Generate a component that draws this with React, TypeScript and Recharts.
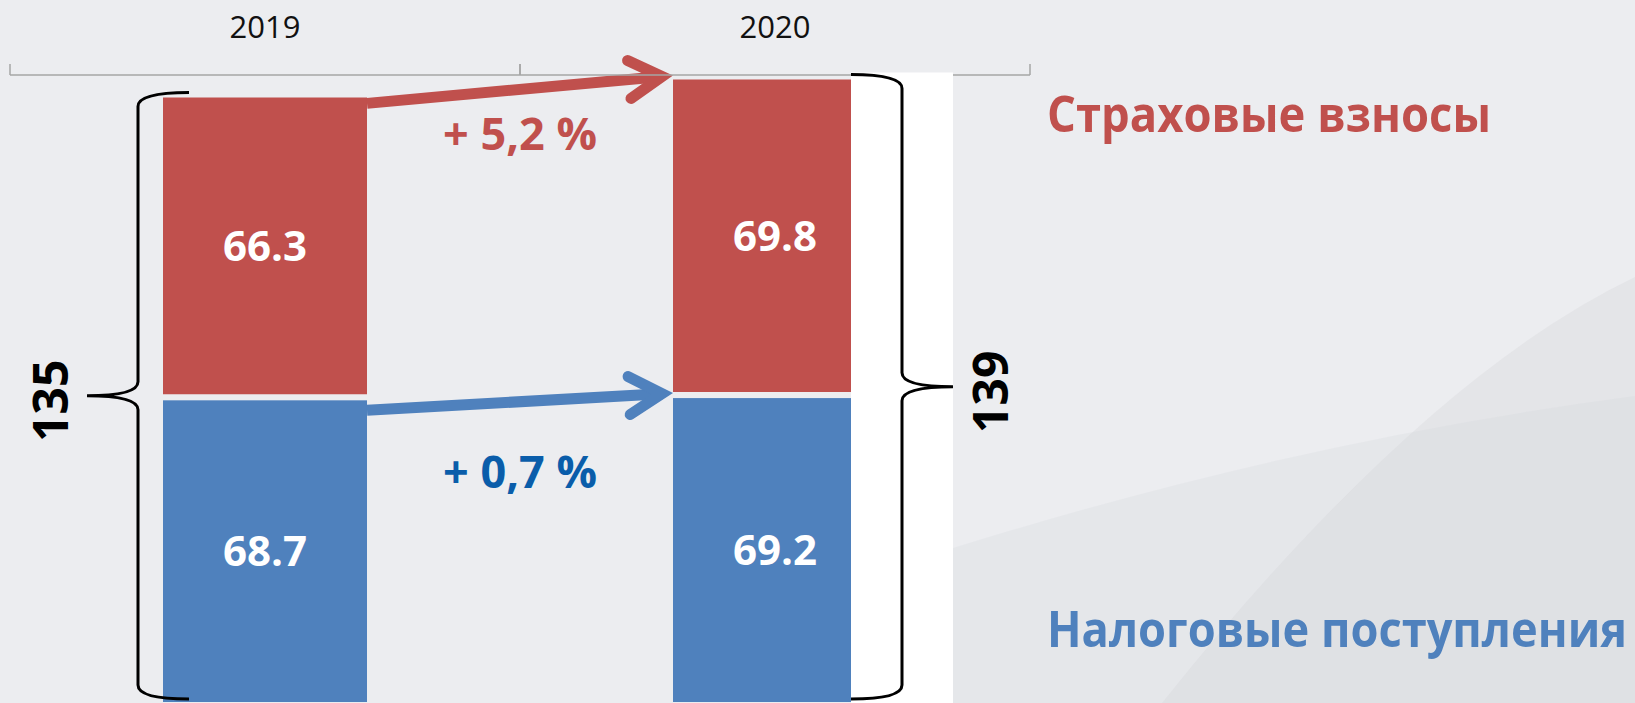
import React from 'react';
import { BarChart, Bar, XAxis, YAxis, LabelList, ReferenceLine, Legend } from 'recharts';

// values, billions
const YEARS = ['2019', '2020'];
const TAX_REVENUE = [68.7, 69.2];
const INSURANCE = [66.3, 69.8];
const TOTALS = [135, 139];
const GROWTH = ['+ 5,2 %', '+ 0,7 %'];
const SERIES_NAMES = ['Налоговые поступления', 'Страховые взносы'];
const Y_DOMAIN = [0, 140];

const RED = '#C0504D';
const BLUE = '#4F81BD';
const BLUE_TEXT = '#0A5DAA';
const BG = '#ECEDF0';
const AXIS_GRAY = '#A6A6A6';
const FONT = "'Open Sans', 'Noto Sans', sans-serif";
const BAR_SHARE = 0.4; // bar width as part of the category band (barCategoryGap 30%)
const STACK_GAP = 6;

const data = YEARS.map((year, i) => ({
  year,
  tax: TAX_REVENUE[i],
  insurance: INSURANCE[i],
  total: TOTALS[i],
}));

const YearTick = ({ x, y, payload }: any) => {
  const off = payload && typeof payload.offset === 'number' ? payload.offset : 0;
  return (
    <g>
      <text x={x} y={y - 37} textAnchor="middle" fontSize={31} fontFamily={FONT} fill="#111">
        {payload.value}
      </text>
      {off > 0 && (
        <>
          <line x1={x - off} x2={x - off} y1={y - 11} y2={y} stroke={AXIS_GRAY} strokeWidth={1.5} />
          <line x1={x + off} x2={x + off} y1={y - 11} y2={y} stroke={AXIS_GRAY} strokeWidth={1.5} />
        </>
      )}
    </g>
  );
};

const TaxBar = (props: any) => {
  const { x, y, width, height, fill } = props;
  if (height == null || height <= STACK_GAP) return null;
  return <rect x={x} y={y + STACK_GAP} width={width} height={height - STACK_GAP} fill={fill} />;
};

// braces with the totals, and the white panel over the right part of the 2020 column
const renderBraces = (props: any) => {
  const vb = props.viewBox ?? props;
  const { x, y, width, height } = vb;
  const i = props.index;
  if (x == null || i == null) return null;
  const unit = height / INSURANCE[i];
  const base = y + height + TAX_REVENUE[i] * unit;
  const left = i === 0;
  const dir = left ? -1 : 1;
  const edge = left ? x : x + width;
  const sx = edge + dir * 25;
  const ex = edge - dir * 26;
  const tx = edge + dir * 76;
  const ty = y - 5;
  const by = base - 3;
  const my = (ty + by) / 2;
  const r = 14;
  const d = `M ${ex} ${ty} Q ${sx} ${ty} ${sx} ${ty + r} L ${sx} ${my - r} Q ${sx} ${my} ${tx} ${my} Q ${sx} ${my} ${sx} ${my + r} L ${sx} ${by - r} Q ${sx} ${by} ${ex} ${by}`;
  const lx = tx + dir * 37;
  const ly = my + 5;
  return (
    <g>
      {!left && <rect x={ex} y={y - 7} width={tx - ex} height={base - y + 30} fill="#fff" />}
      <path d={d} fill="none" stroke="#000" strokeWidth={3} />
      <text
        x={lx}
        y={ly}
        transform={`rotate(-90 ${lx} ${ly})`}
        textAnchor="middle"
        dominantBaseline="central"
        fontSize={48}
        fontWeight={700}
        fontFamily={FONT}
        fill="#000"
      >
        {TOTALS[i]}
      </text>
    </g>
  );
};

const GrowthArrow = (props: any) => {
  const { x1, y1, x2, y2, color, text, textColor, startDy, endDy, textDy } = props;
  if ([x1, y1, x2, y2].some((v) => typeof v !== 'number')) return null;
  const half = ((x2 - x1) * BAR_SHARE) / 2;
  const sx = x1 + half;
  const sy = y1 + startDy;
  const tx = x2 - half;
  const ty = y2 + endDy;
  const ang = Math.atan2(ty - sy, tx - sx);
  const vx = tx - 11 * Math.cos(ang);
  const vy = ty - 11 * Math.sin(ang);
  const back = ang + Math.PI;
  const spread = (30 * Math.PI) / 180;
  const wing = 38;
  const w1x = vx + wing * Math.cos(back - spread);
  const w1y = vy + wing * Math.sin(back - spread);
  const w2x = vx + wing * Math.cos(back + spread);
  const w2y = vy + wing * Math.sin(back + spread);
  return (
    <g>
      <line x1={sx} y1={sy} x2={vx} y2={vy} stroke={color} strokeWidth={11} strokeLinecap="butt" />
      <polyline
        points={`${w1x},${w1y} ${vx},${vy} ${w2x},${w2y}`}
        fill="none"
        stroke={color}
        strokeWidth={11}
        strokeLinecap="round"
        strokeLinejoin="miter"
        strokeMiterlimit={10}
      />
      <text
        x={(x1 + x2) / 2}
        y={(sy + ty) / 2 + textDy}
        textAnchor="middle"
        fontSize={45}
        fontWeight={700}
        fontFamily={FONT}
        fill={textColor}
      >
        {text}
      </text>
    </g>
  );
};

const renderSeriesNames = (props: any) => {
  const payload = props.payload ?? [];
  const tax = payload.find((p: any) => p.dataKey === 'tax');
  const ins = payload.find((p: any) => p.dataKey === 'insurance');
  return (
    <svg width={595} height={620} style={{ overflow: 'visible' }}>
      {ins && (
        <text x={7} y={72} fill={ins.color} fontSize={51} fontWeight={700} fontFamily={FONT}
          textLength={444} lengthAdjust="spacingAndGlyphs">
          {ins.value}
        </text>
      )}
      {tax && (
        <text x={7} y={587} fill={tax.color} fontSize={51} fontWeight={700} fontFamily={FONT}
          textLength={580} lengthAdjust="spacingAndGlyphs">
          {tax.value}
        </text>
      )}
    </svg>
  );
};

export default function App() {
  return (
    <div style={{ position: 'absolute', left: 0, top: 0, width: 1635, height: 703, overflow: 'hidden', background: BG }}>
      {/* template background swoosh */}
      <svg width={1635} height={703} style={{ position: 'absolute', left: 0, top: 0 }}>
        <path d="M 1635 277 Q 1420 380 1162 703 L 1635 703 Z" fill="#d3d5d8" fillOpacity={0.32} />
        <path d="M 953 548 Q 1300 440 1635 396 L 1635 703 L 953 703 Z" fill="#d3d5d8" fillOpacity={0.24} />
      </svg>
      <div style={{ position: 'absolute', left: 0, top: 0 }}>
        <BarChart
          width={1635}
          height={703}
          data={data}
          margin={{ top: 0, right: 605, bottom: 1, left: 10 }}
          barCategoryGap="30%"
        >
          <XAxis
            dataKey="year"
            orientation="top"
            height={75}
            interval={0}
            axisLine={{ stroke: AXIS_GRAY, strokeWidth: 1.5 }}
            tickLine={false}
            tickSize={0}
            tickMargin={0}
            tick={(p: any) => <YearTick {...p} />}
          />
          <YAxis hide domain={Y_DOMAIN} />
          <Bar dataKey="tax" name={SERIES_NAMES[0]} stackId="s" fill={BLUE} isAnimationActive={false} shape={(p: any) => <TaxBar {...p} />}>
            <LabelList dataKey="tax" position="center" fill="#fff" fontSize={42} fontWeight={700} fontFamily={FONT} offset={0} dy={STACK_GAP / 2} />
          </Bar>
          <Bar dataKey="insurance" name={SERIES_NAMES[1]} stackId="s" fill={RED} isAnimationActive={false}>
            <LabelList dataKey="insurance" position="center" fill="#fff" fontSize={42} fontWeight={700} fontFamily={FONT} offset={0} />
            <LabelList dataKey="insurance" content={renderBraces} />
          </Bar>
          <ReferenceLine
            segment={[{ x: YEARS[0], y: TOTALS[0] }, { x: YEARS[1], y: TOTALS[1] }]}
            ifOverflow="visible"
            shape={(p: any) => (
              <GrowthArrow {...p} color={RED} textColor={RED} text={GROWTH[0]} startDy={6} endDy={-4} textDy={61} />
            )}
          />
          <ReferenceLine
            segment={[{ x: YEARS[0], y: TAX_REVENUE[0] }, { x: YEARS[1], y: TAX_REVENUE[1] }]}
            ifOverflow="visible"
            shape={(p: any) => (
              <GrowthArrow {...p} color={BLUE} textColor={BLUE_TEXT} text={GROWTH[1]} startDy={16} endDy={1} textDy={86} />
            )}
          />
          <Legend
            layout="horizontal"
            verticalAlign="middle"
            align="center"
            wrapperStyle={{ left: 1040, top: 60, width: 595, height: 620 }}
            content={renderSeriesNames}
          />
        </BarChart>
      </div>
    </div>
  );
}
